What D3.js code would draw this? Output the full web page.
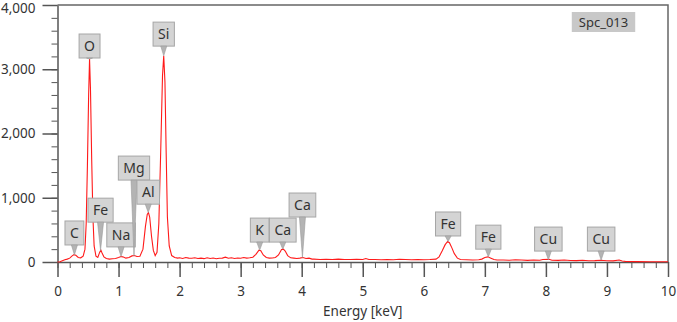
<!DOCTYPE html>
<html>
<head>
<meta charset="utf-8">
<script src="https://cdn.jsdelivr.net/npm/d3@7"></script>
<style>
  body { margin: 0; background: #fff; }
  svg text { font-family: "Noto Sans", "Open Sans", sans-serif; fill: #333; }
</style>
</head>
<body>
<div id="chart"></div>
<script>
// spectrum (energy in keV, counts)
const energy = [
  0.00, 0.04, 0.08, 0.12, 0.16, 0.20, 0.24, 0.27, 0.30, 0.34, 0.38, 0.42, 0.45, 0.47, 0.49, 0.51, 0.525, 0.54, 0.56, 0.58,
  0.60, 0.63, 0.66, 0.69, 0.71, 0.73, 0.76, 0.80, 0.85, 0.90, 0.95, 1.00, 1.04, 1.07, 1.12, 1.17, 1.22, 1.26, 1.30, 1.35,
  1.40, 1.44, 1.47, 1.49, 1.51, 1.54, 1.57, 1.60, 1.63, 1.66, 1.69, 1.72, 1.74, 1.76, 1.78, 1.80, 1.83, 1.87, 1.92, 1.97,
  2.00, 2.05, 2.10, 2.15, 2.20, 2.25, 2.30, 2.35, 2.40, 2.45, 2.50, 2.55, 2.60, 2.65, 2.70, 2.75, 2.80, 2.85, 2.90, 2.95,
  3.00, 3.05, 3.10, 3.15, 3.20, 3.25, 3.30, 3.33, 3.37, 3.42, 3.47, 3.52, 3.57, 3.62, 3.67, 3.70, 3.73, 3.77, 3.82, 3.87,
  3.92, 3.97, 4.02, 4.07, 4.12, 4.17, 4.20, 4.30, 4.40, 4.50, 4.60, 4.70, 4.80, 4.90, 5.00, 5.05, 5.10, 5.20, 5.30, 5.40,
  5.50, 5.60, 5.70, 5.80, 5.90, 6.00, 6.10, 6.20, 6.25, 6.30, 6.35, 6.39, 6.42, 6.46, 6.50, 6.55, 6.60, 6.70, 6.80, 6.90,
  6.95, 7.00, 7.05, 7.10, 7.15, 7.20, 7.30, 7.40, 7.50, 7.60, 7.70, 7.80, 7.90, 7.95, 8.05, 8.10, 8.20, 8.30, 8.40, 8.50,
  8.60, 8.70, 8.80, 8.90, 9.00, 9.10, 9.20, 9.25, 9.30, 9.50, 9.70, 10.0
];
const counts = [
  0, 5, 20, 35, 45, 60, 95, 115, 105, 70, 65, 90, 200, 600, 1500, 2600, 3160, 2700, 1600, 700,
  250, 90, 70, 150, 185, 140, 80, 55, 45, 50, 55, 70, 85, 80, 60, 70, 95, 100, 85, 90,
  200, 550, 740, 770, 700, 400, 180, 100, 150, 600, 1700, 2900, 3210, 2800, 1700, 700, 250, 100, 70, 60,
  65, 55, 70, 60, 58, 65, 55, 60, 52, 66, 55, 62, 50, 58, 60, 75, 58, 65, 55, 62,
  58, 70, 60, 65, 75, 120, 185, 175, 110, 70, 60, 62, 70, 110, 195, 200, 170, 100, 65, 60,
  55, 60, 70, 55, 60, 45, 45, 40, 42, 38, 45, 40, 38, 42, 40, 55, 38, 40, 35, 38,
  36, 42, 38, 35, 38, 36, 38, 45, 80, 170, 270, 320, 300, 220, 130, 60, 40, 35, 32, 35,
  45, 70, 80, 60, 40, 30, 32, 28, 34, 30, 26, 30, 28, 40, 42, 28, 25, 30, 24, 22,
  28, 20, 22, 28, 20, 18, 30, 15, 10, 6, 5, 4
];

// peak markers: element, energy, count at the marker tip, count at the box bottom
const peakNames  = ['C', 'O', 'Fe', 'Na', 'Mg', 'Al', 'Si', 'K', 'Ca', 'Ca', 'Fe', 'Fe', 'Cu', 'Cu'];
const peakEnergy = [0.277, 0.525, 0.705, 1.041, 1.253, 1.486, 1.740, 3.312, 3.690, 4.012, 6.398, 7.057, 8.040, 8.905];
const peakTip    = [110, 3160, 180, 85, 95, 770, 3210, 185, 200, 70, 320, 80, 35, 30];
const peakBox    = [265, 3175, 620, 235, 1275, 900, 3360, 310, 310, 700, 405, 200, 170, 170];

const xTicks = [0, 1, 2, 3, 4, 5, 6, 7, 8, 9, 10];
const yTicks = [0, 1000, 2000, 3000, 4000];
const spectrumName = 'Spc_013';

const W = 677, H = 322;
const margin = {top: 5, right: 9, bottom: 60, left: 57.5};

const svg = d3.select('#chart').append('svg')
    .attr('width', W)
    .attr('height', H);

const x = d3.scaleLinear().domain([0, 10]).range([margin.left, W - margin.right]);
const y = d3.scaleLinear().domain([0, 4000]).range([H - margin.bottom, margin.top]);

const axisColor = '#555';

// minor ticks
svg.append('g')
    .attr('transform', `translate(0,${y(0)})`)
    .call(d3.axisBottom(x).ticks(50).tickSize(6).tickFormat(''))
    .call(g => g.select('.domain').remove())
    .call(g => g.selectAll('line').attr('stroke', axisColor));

svg.append('g')
    .attr('transform', `translate(${x(0)},0)`)
    .call(d3.axisLeft(y).ticks(20).tickSize(6).tickFormat(''))
    .call(g => g.select('.domain').remove())
    .call(g => g.selectAll('line').attr('stroke', axisColor));

// major ticks
svg.append('g')
    .attr('transform', `translate(0,${y(0)})`)
    .call(d3.axisBottom(x).tickValues(xTicks).tickSize(15).tickPadding(9).tickSizeOuter(0))
    .call(g => g.select('.domain').attr('stroke', axisColor).attr('stroke-width', 1.5))
    .call(g => g.selectAll('line').attr('stroke', axisColor).attr('stroke-width', 1.5))
    .call(g => g.selectAll('text').style('font-size', '13.5px').attr('fill', '#333'));

svg.append('g')
    .attr('transform', `translate(${x(0)},0)`)
    .call(d3.axisLeft(y).tickValues(yTicks).tickSize(15).tickPadding(7).tickSizeOuter(0).tickFormat(d3.format(',')))
    .call(g => g.select('.domain').attr('stroke', axisColor).attr('stroke-width', 1.5))
    .call(g => g.selectAll('line').attr('stroke', axisColor).attr('stroke-width', 1.5))
    .call(g => g.selectAll('text').style('font-size', '13.5px').attr('fill', '#333'))
    .call(g => g.selectAll('.tick').filter(d => d === 4000).select('text').attr('dy', '0.55em'));

// frame top and right
svg.append('path')
    .attr('d', `M${x(0)},${y(4000)}H${x(10)}V${y(0)}`)
    .attr('fill', 'none')
    .attr('stroke', '#666')
    .attr('stroke-width', 1.5);

svg.append('text')
    .attr('x', (x(0) + x(10)) / 2)
    .attr('y', 316)
    .attr('text-anchor', 'middle')
    .style('font-size', '13.5px')
    .text('Energy [keV]');

// spectrum
const line = d3.line()
    .x((d, i) => x(energy[i]))
    .y(d => y(d));

svg.append('path')
    .datum(counts)
    .attr('d', line)
    .attr('fill', 'none')
    .attr('stroke', '#ff1a1a')
    .attr('stroke-width', 1.1);

// peak labels
const labels = svg.append('g');
peakNames.forEach((name, i) => {
    const cx = x(peakEnergy[i]);
    const tipY = y(peakTip[i]);
    const boxBottom = y(peakBox[i]);
    const g = labels.append('g');
    const t = g.append('text')
        .attr('x', cx)
        .attr('y', boxBottom - 7)
        .attr('text-anchor', 'middle')
        .style('font-size', '14px')
        .text(name);
    const bw = t.node().getComputedTextLength() + 10;
    g.insert('rect', 'text')
        .attr('x', cx - bw / 2)
        .attr('y', boxBottom - 24)
        .attr('width', bw)
        .attr('height', 24)
        .attr('fill', '#d4d4d4')
        .attr('stroke', '#a6a6a6');
    g.insert('path', 'text')
        .attr('d', `M${cx - 3},${boxBottom}L${cx},${tipY}L${cx + 3},${boxBottom}Z`)
        .attr('fill', '#b4b4b4')
        .attr('stroke', '#9a9a9a')
        .attr('stroke-width', 0.6);
});

// spectrum name
const nameG = svg.append('g');
const nt = nameG.append('text')
    .attr('x', 603.5)
    .attr('y', 27)
    .attr('text-anchor', 'middle')
    .style('font-size', '13px')
    .text(spectrumName);
const nw = nt.node().getComputedTextLength() + 14;
nameG.insert('rect', 'text')
    .attr('x', 603.5 - nw / 2)
    .attr('y', 12)
    .attr('width', nw)
    .attr('height', 20)
    .attr('fill', '#c8c8c8');
</script>
</body>
</html>
